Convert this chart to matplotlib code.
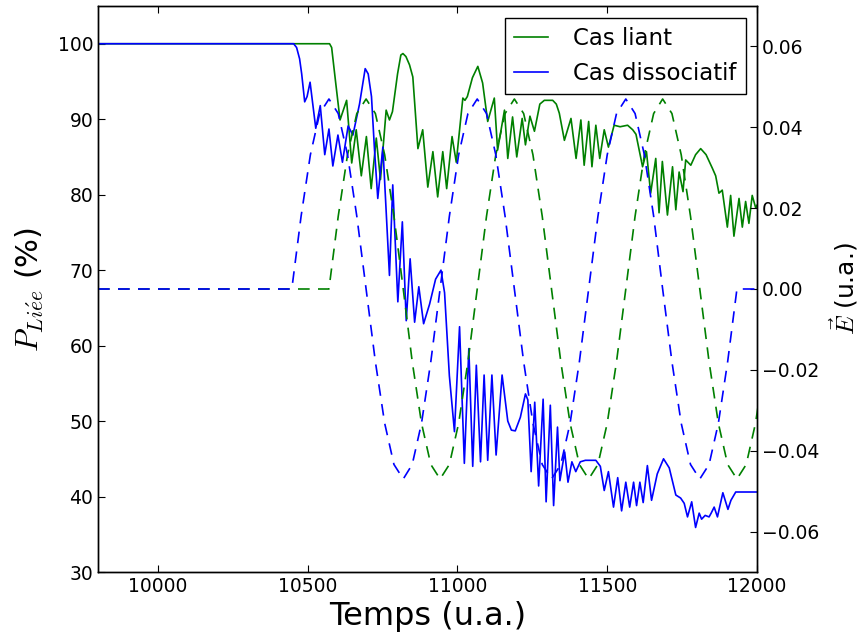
import matplotlib
matplotlib.use("Agg")
import matplotlib.pyplot as plt

# ── Style (old matplotlib look) ───────────────────────────────────────────────
plt.rcParams.update({
    "font.family":       "DejaVu Sans",
    "mathtext.fontset":  "cm",
    "xtick.direction":   "in",
    "ytick.direction":   "in",
    "xtick.top":         True,
    "xtick.major.size":  5,
    "ytick.major.size":  5,
    "axes.linewidth":    1.0,
    "lines.linewidth":   1.2,
})

BLUE  = "#0000ff"
GREEN = "#008000"

# ── Population liée (%) — Cas liant ───────────────────────────────────────────
t_liant = [9800, 10573, 10580, 10593, 10608, 10630, 10647, 10662, 10679, 10696,
           10712, 10729, 10743, 10762, 10773, 10783, 10800, 10811, 10818, 10828,
           10840, 10851, 10868, 10884, 10901, 10918, 10934, 10951, 10964, 10982,
           10996, 11018, 11025, 11033, 11050, 11068, 11084, 11101, 11123, 11134,
           11157, 11168, 11184, 11198, 11216, 11227, 11242, 11257, 11275, 11290,
           11318, 11330, 11340, 11357, 11379, 11396, 11412, 11423, 11438, 11449,
           11462, 11475, 11490, 11504, 11523, 11543, 11568, 11585, 11596, 11618,
           11631, 11645, 11662, 11673, 11684, 11701, 11718, 11729, 11740, 11753,
           11762, 11779, 11795, 11812, 11830, 11851, 11862, 11873, 11884, 11901,
           11912, 11923, 11940, 11951, 11962, 11973, 11984, 11996, 12000]
p_liant = [100, 100, 99.5, 95, 89.9, 92.5, 84.2, 88.6, 82.5, 87.7,
           80.8, 87.5, 82, 91.2, 89.9, 91, 96, 98.5, 98.7, 98.3,
           97.2, 95.6, 86.1, 88.6, 81.0, 85.7, 79.7, 85.7, 80.8, 87.7,
           84.3, 92.8, 92.5, 93, 95.5, 97.0, 94.8, 89.7, 92.8, 85.9,
           91.2, 84.8, 90.3, 85.0, 90.1, 86.6, 90.4, 88.4, 92.0, 92.5,
           92.5, 92, 90.8, 87.2, 90.1, 84.8, 89.9, 83.9, 89.7, 83.7,
           89.2, 84.8, 88.6, 86.3, 89.2, 89.0, 89.2, 88.6, 88.0, 83.7,
           85.7, 80.2, 84.8, 77.6, 84.4, 77.3, 83.7, 78.0, 83.0, 80.4,
           84.6, 83.9, 85.3, 86.1, 85.3, 83.5, 82.5, 80.2, 80.6, 75.7,
           79.9, 74.5, 79.5, 75.7, 79.1, 76.2, 79.9, 78.2, 78.6]

# ── Population liée (%) — Cas dissociatif ─────────────────────────────────────
t_dissoc = [9800, 10453, 10463, 10473, 10480, 10490, 10498, 10508, 10517, 10527,
            10542, 10557, 10571, 10584, 10601, 10616, 10635, 10651, 10673, 10692,
            10702, 10713, 10723, 10734, 10751, 10773, 10784, 10801, 10816, 10829,
            10842, 10857, 10871, 10887, 10907, 10927, 10945, 10957, 10973, 10990,
            11007, 11023, 11038, 11051, 11063, 11077, 11089, 11101, 11115, 11129,
            11149, 11168, 11180, 11193, 11210, 11227, 11235, 11246, 11258, 11271,
            11286, 11296, 11310, 11321, 11334, 11342, 11358, 11369, 11382, 11395,
            11410, 11427, 11462, 11477, 11490, 11504, 11521, 11535, 11548, 11562,
            11575, 11588, 11598, 11609, 11620, 11634, 11648, 11667, 11688, 11707,
            11729, 11745, 11757, 11768, 11782, 11795, 11807, 11815, 11827, 11840,
            11847, 11857, 11868, 11886, 11903, 11913, 11929, 12000]
p_dissoc = [100, 100, 99.5, 98, 96, 92.3, 93, 94.9, 92, 88.8,
            91.8, 85.3, 88.7, 83.8, 87.9, 84.3, 89.1, 87.9, 92, 96.7,
            96, 93, 86, 79.5, 86.3, 69.3, 81.3, 65.8, 76.4, 63.3,
            71.5, 63.1, 67.8, 62.9, 65.5, 68.8, 70.0, 67, 56, 48.6,
            62.5, 44.4, 59.6, 44.0, 57.4, 44.6, 56.1, 44.8, 56.1, 45.5,
            56.1, 50, 48.8, 48.7, 50.5, 53.6, 52.8, 43.3, 52.5, 41.4,
            52.9, 39.3, 52.1, 38.8, 49.2, 42.1, 45.9, 41.9, 44.6, 43.3,
            44.6, 44.8, 44.8, 44, 40.8, 43.3, 38.6, 42.5, 38.1, 41.9,
            38.6, 41.9, 38.8, 41.9, 39.2, 44.1, 39.5, 43, 45.0, 43.8,
            40.2, 39.8, 39.1, 37.3, 39.3, 35.9, 37.8, 37.0, 37.5, 37.3,
            37.8, 38.6, 37.3, 40.5, 38.3, 39.5, 40.6, 40.6]

# ── Champ électrique (u.a.) ───────────────────────────────────────────────────
t_field = [9800, 10447, 10478, 10509, 10540, 10571, 10602, 10633, 10664, 10695,
           10726, 10757, 10788, 10819, 10849, 10880, 10911, 10942, 10973, 11004,
           11035, 11066, 11097, 11128, 11159, 11190, 11221, 11252, 11283, 11314,
           11345, 11376, 11407, 11438, 11469, 11500, 11531, 11562, 11593, 11624,
           11655, 11685, 11716, 11747, 11778, 11809, 11840, 11871, 11902, 11933,
           11964, 11995, 12026]
e_dissoc = [0, 0, 0.018, 0.0332, 0.0434, 0.047, 0.0434, 0.0332, 0.018, 0,
            -0.018, -0.0332, -0.0434, -0.047, -0.0434, -0.0332, -0.018, 0, 0.018, 0.0332,
            0.0434, 0.047, 0.0434, 0.0332, 0.018, 0, -0.018, -0.0332, -0.0434, -0.047,
            -0.0434, -0.0332, -0.018, 0, 0.018, 0.0332, 0.0434, 0.047, 0.0434, 0.0332,
            0.018, 0, -0.018, -0.0332, -0.0434, -0.047, -0.0434, -0.0332, -0.018, 0,
            0, 0, 0]
e_liant = [0, 0, 0, 0, 0, 0, 0.018, 0.0332, 0.0434, 0.047,
           0.0434, 0.0332, 0.018, 0, -0.018, -0.0332, -0.0434, -0.047, -0.0434, -0.0332,
           -0.018, 0, 0.018, 0.0332, 0.0434, 0.047, 0.0434, 0.0332, 0.018, 0,
           -0.018, -0.0332, -0.0434, -0.047, -0.0434, -0.0332, -0.018, 0, 0.018, 0.0332,
           0.0434, 0.047, 0.0434, 0.0332, 0.018, 0, -0.018, -0.0332, -0.0434, -0.047,
           -0.0434, -0.0332, -0.018]

x_ticks  = [10000, 10500, 11000, 11500, 12000]
p_ticks  = [30, 40, 50, 60, 70, 80, 90, 100]
e_ticks  = [-0.06, -0.04, -0.02, 0.0, 0.02, 0.04, 0.06]

# ── Figure ────────────────────────────────────────────────────────────────────
fig = plt.figure(figsize=(8.65, 6.34), dpi=100, facecolor="white")
ax = fig.add_axes([98 / 865, 62 / 634, 659 / 865, 566 / 634])

ax.plot(t_liant, p_liant, color=GREEN, label="Cas liant")
ax.plot(t_dissoc, p_dissoc, color=BLUE, label="Cas dissociatif")

ax.set_xlim(9800, 12000)
ax.set_ylim(30, 105)
ax.set_xticks(x_ticks)
ax.set_yticks(p_ticks)
ax.tick_params(labelsize=13.5)
ax.set_xlabel("Temps (u.a.)", fontsize=23)
ax.set_ylabel(r"$P_{Li\acute{e}e}$ (%)", fontsize=22, labelpad=8)

leg = ax.legend(loc="upper right", bbox_to_anchor=(0.9833, 0.9788),
                borderaxespad=0, fontsize=16.5, fancybox=False,
                framealpha=1, edgecolor="black", handlelength=1.5,
                handletextpad=1.1)
leg.get_frame().set_linewidth(1.0)

ax2 = ax.twinx()
ax2.plot(t_field, e_liant, color=GREEN, linestyle="--", dashes=(7, 5))
ax2.plot(t_field, e_dissoc, color=BLUE, linestyle="--", dashes=(7, 5))
ax2.set_xlim(9800, 12000)
ax2.set_ylim(-0.07, 0.07)
ax2.set_yticks(e_ticks)
ax2.set_yticklabels([f"{v:.2f}".replace("-", "\u2212") for v in e_ticks])
ax2.tick_params(labelsize=13.5)
ax2.set_ylabel(r"$\vec{E}$ (u.a.)", fontsize=18, labelpad=6)

fig.savefig("out.png", dpi=100, facecolor="white")
